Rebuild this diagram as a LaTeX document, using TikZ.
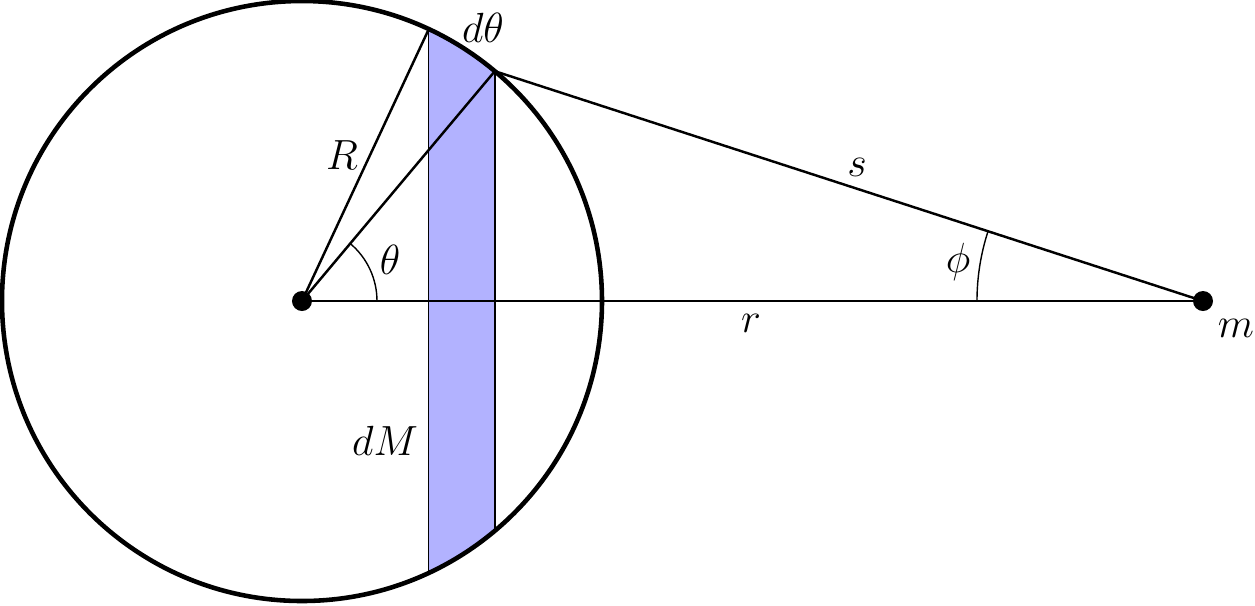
\documentclass[tikz,border=0pt]{standalone}
\usetikzlibrary{calc}
\begin{document}
\begin{tikzpicture}[
  lbl/.style={inner sep=1pt, font=\large},
  dot/.style={circle, fill=black, inner sep=0pt, minimum size=0.2cm},
  ln/.style={line width=0.7pt},
]
\useasboundingbox (-3.02,-3.04) rectangle (9.53,3.01);
\coordinate (O) at (0,0);
\coordinate (A) at (65:3);
\coordinate (B) at (50:3);
\coordinate (Ab) at (-65:3);
\coordinate (Bb) at (-50:3);
\coordinate (M) at (9.01,0);
% strip
\fill[blue!30] (A) arc (65:50:3) -- (Bb) arc (-50:-65:3) -- cycle;
\draw[line width=0.4pt] (A) -- (Ab);
\draw[line width=0.4pt] (B) -- (Bb);
% circle
\draw[line width=1.3pt] (O) circle (3);
% lines
\draw[ln] (O) -- (A);
\draw[ln] (O) -- (B);
\draw[ln] (B) -- (M);
\draw[ln] (O) -- (M);
% angle arcs
\draw[line width=0.4pt] (0.75,0) arc (0:50:0.75);
\draw[line width=0.4pt] ($(M)+(180:2.26)$) arc (180:{180-atan2(2.298,7.081)}:2.26);
\node[dot] (o) at (O) {};
\node[dot] (m) at (M) {};
% labels
\node[lbl] (ldt) at (1.81,2.73) {$d\theta$};
\node[lbl] (lR) at (0.40,1.46) {$R$};
\node[lbl] (lth) at (0.88,0.41) {$\theta$};
\node[lbl] (ls) at (5.55,1.34) {$s$};
\node[lbl] (lphi) at (6.56,0.39) {$\phi$};
\node[lbl] (lr) at (4.49,-0.22) {$r$};
\node[lbl] (lm) at (9.34,-0.27) {$m$};
\node[lbl] (ldM) at (0.83,-1.40) {$dM$};
\end{tikzpicture}
\end{document}
